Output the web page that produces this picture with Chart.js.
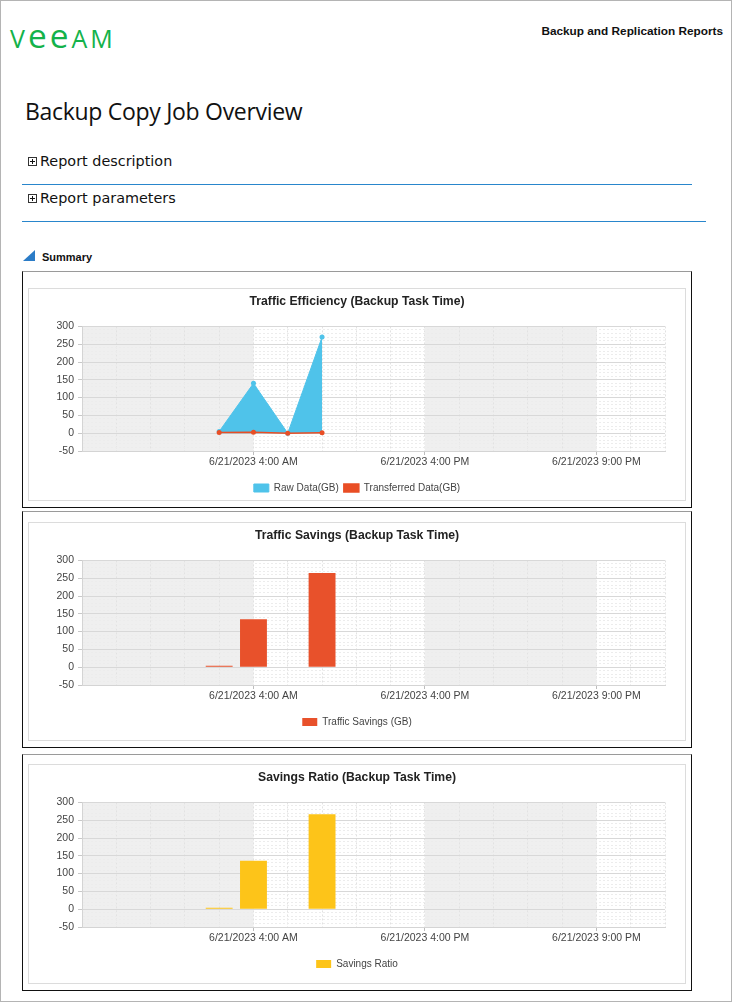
<!DOCTYPE html>
<html>
<head>
<meta charset="utf-8">
<title>Backup Copy Job Overview</title>
<script src="https://cdn.jsdelivr.net/npm/chart.js@4.4.1/dist/chart.umd.min.js"></script>
<style>
    body { margin: 0; background: #fff; font-family: "Liberation Sans", Arial, sans-serif; color: #111; }
    .abs { position: absolute; white-space: nowrap; }
    #bingkai { left: 0; top: 0; width: 732px; height: 1002px; box-sizing: border-box; border: 1px solid #b4b4b4; }
    #logo { left: 10px; top: 23px; font-family: "Open Sans", sans-serif; font-size: 25px; line-height: 25px; color: #13b24a; letter-spacing: 3px; }
    #logo .e { font-size: 33.4px; }
    #kanan { right: 9px; top: 24.5px; font-size: 11.8px; line-height: 12px; font-weight: bold; }
    #judul { left: 25px; top: 100px; font-family: "Open Sans", sans-serif; font-size: 23px; line-height: 23px; letter-spacing: -0.3px; }
    .sub { left: 40px; font-family: "DejaVu Sans", sans-serif; font-size: 14.4px; line-height: 15px; }
    .plus { left: 28px; width: 9px; height: 9px; box-sizing: border-box; border: 1px solid #333; }
    .plus::before { content: ''; position: absolute; left: 1px; top: 3px; width: 5px; height: 1px; background: #111; }
    .plus::after { content: ''; position: absolute; left: 3px; top: 1px; width: 1px; height: 5px; background: #111; }
    .garis { left: 22px; height: 1px; background: #2986cc; }
    #segitiga { left: 23px; top: 250px; width: 0; height: 0; border-bottom: 11px solid #2b7cc7; border-left: 12px solid transparent; }
    #ringkasan { left: 42px; top: 252px; font-size: 11px; line-height: 11px; font-weight: bold; }
    .kotak { left: 22px; width: 670px; height: 237px; box-sizing: border-box; border: 1px solid #111; border-top-color: #9a9a9a; }
    .dalam { left: 28px; width: 658px; box-sizing: border-box; border: 1px solid #dcdcdc; }
    .dalam canvas { display: block; }
</style>
</head>
<body>
<div class="abs" id="bingkai"></div>
<div class="abs" id="logo">V<span class="e">ee</span>AM</div>
<div class="abs" id="kanan">Backup and Replication Reports</div>
<div class="abs" id="judul">Backup Copy Job Overview</div>

<div class="abs plus" style="top:157px"></div>
<div class="abs sub" style="top:153.5px">Report description</div>
<div class="abs garis" style="top:184px; width:670px"></div>
<div class="abs plus" style="top:194px"></div>
<div class="abs sub" style="top:190.5px">Report parameters</div>
<div class="abs garis" style="top:221px; width:684px"></div>

<div class="abs" id="segitiga"></div>
<div class="abs" id="ringkasan">Summary</div>

<div class="abs kotak" style="top:271px"></div>
<div class="abs dalam" style="top:288px; height:213px"><canvas id="grafikEfisiensi" width="656" height="211"></canvas></div>
<div class="abs kotak" style="top:511px"></div>
<div class="abs dalam" style="top:522px; height:219px"><canvas id="grafikHemat" width="656" height="217"></canvas></div>
<div class="abs kotak" style="top:754px"></div>
<div class="abs dalam" style="top:764px; height:220px"><canvas id="grafikRasio" width="656" height="218"></canvas></div>

<script>
// Posisi sampel pada sumbu waktu (satu unit = satu slot grid).
const taskSlots = [4, 5, 6, 7];
const rawData = [5, 140, 0, 270];
const transferredData = [2, 3, 0, 1];
const trafficSavings = [4, 135, 0, 265];
const savingsRatio = [4, 136, 0, 267];

// Label sumbu waktu dan rentang sumbu.
const tickSlots = [5, 10, 15];
const tickLabels = ['6/21/2023 4:00 AM', '6/21/2023 4:00 PM', '6/21/2023 9:00 PM'];
const slotRange = [0, 17];
const valueRange = [-50, 300];

const toPoints = (values) => taskSlots.map((x, i) => ({ x: x, y: values[i] }));

Chart.defaults.font.family = '"Liberation Sans", Arial, sans-serif';
Chart.defaults.color = '#444';

// Pita abu-abu berselang di antara label waktu.
const pitaWaktu = {
    id: 'pitaWaktu',
    beforeDraw(chart) {
        const { ctx, chartArea: a, scales: { x } } = chart;
        const batas = [slotRange[0], ...tickSlots, slotRange[1]];
        ctx.save();
        ctx.fillStyle = '#efefef';
        for (let i = 0; i < batas.length - 1; i += 2) {
            const x0 = x.getPixelForValue(batas[i]);
            const x1 = x.getPixelForValue(batas[i + 1]);
            ctx.fillRect(x0, a.top, x1 - x0, a.bottom - a.top);
        }
        ctx.restore();
    }
};

function opsiSkala() {
    return {
        x: {
            type: 'linear', min: slotRange[0], max: slotRange[1], offset: false,
            afterFit: (s) => { s.height = 27; },
            ticks: {
                stepSize: 1, autoSkip: false, maxRotation: 0, minRotation: 0, padding: 1,
                font: { size: 10.5 }, color: '#444',
                callback: (v) => { const i = tickSlots.indexOf(v); return i >= 0 ? tickLabels[i] : ''; }
            },
            grid: {
                offset: false, color: '#e2e2e2', tickLength: 4,
                tickColor: (c) => (c.tick && tickSlots.includes(c.tick.value)) ? '#bdbdbd' : 'rgba(0,0,0,0)'
            },
            border: { color: '#d4d4d4', dash: (c) => c.tick ? [2, 2] : [] }
        },
        y: {
            min: valueRange[0], max: valueRange[1],
            afterFit: (s) => { s.width = 53; },
            ticks: {
                stepSize: 10, autoSkip: false, padding: 4, font: { size: 10.5 }, color: '#444',
                callback: (v) => v % 50 === 0 ? v : ''
            },
            grid: {
                tickLength: 4,
                color: (c) => c.tick.value % 50 === 0 ? '#d8d8d8' : '#ececec',
                tickColor: (c) => c.tick.value % 50 === 0 ? '#c8c8c8' : 'rgba(0,0,0,0)'
            },
            border: { color: '#d4d4d4', dash: (c) => (c.tick && c.tick.value % 50 !== 0) ? [2, 2] : [] }
        },
        // Sumbu kanan kosong hanya untuk memberi jarak kanan.
        y2: {
            position: 'right', min: 0, max: 1,
            afterFit: (s) => { s.width = 20; },
            grid: { display: false, drawTicks: false },
            ticks: { display: false },
            border: { display: false }
        }
    };
}

function buatGrafik(id, tipe, judul, datasets) {
    const canvas = document.getElementById(id);
    return new Chart(canvas.getContext('2d'), {
        type: tipe,
        data: { datasets: datasets },
        options: {
            responsive: false,
            animation: false,
            events: [],
            layout: { padding: { top: 0, left: 0, right: 0, bottom: canvas.height - 214 } },
            scales: opsiSkala(),
            plugins: {
                title: {
                    display: true, text: judul, color: '#222',
                    font: { size: 12.2, weight: 'bold', lineHeight: 1.1 },
                    padding: { top: 6, bottom: 18 }
                },
                legend: {
                    position: 'bottom',
                    labels: {
                        boxWidth: 15, boxHeight: 8, padding: 5, color: '#444', font: { size: 10 },
                        sort: (a, b) => a.datasetIndex - b.datasetIndex
                    }
                },
                tooltip: { enabled: false }
            }
        },
        plugins: [pitaWaktu]
    });
}

document.addEventListener('DOMContentLoaded', () => {
    buatGrafik('grafikEfisiensi', 'line', 'Traffic Efficiency (Backup Task Time)', [
        { label: 'Raw Data(GB)', data: toPoints(rawData), order: 1, fill: 'origin', tension: 0,
          borderColor: '#4fc3ea', backgroundColor: '#4fc3ea', borderWidth: 1,
          pointRadius: 2.5, pointBackgroundColor: '#4fc3ea', pointBorderWidth: 0 },
        { label: 'Transferred Data(GB)', data: toPoints(transferredData), order: 0, fill: false, tension: 0,
          borderColor: '#e94e25', backgroundColor: '#e94e25', borderWidth: 1.5,
          pointRadius: 2.5, pointBackgroundColor: '#e94e25', pointBorderWidth: 0 }
    ]);
    buatGrafik('grafikHemat', 'bar', 'Traffic Savings (Backup Task Time)', [
        { label: 'Traffic Savings (GB)', data: toPoints(trafficSavings), backgroundColor: '#e8512b',
          borderWidth: 0, barPercentage: 0.98, categoryPercentage: 0.8 }
    ]);
    buatGrafik('grafikRasio', 'bar', 'Savings Ratio (Backup Task Time)', [
        { label: 'Savings Ratio', data: toPoints(savingsRatio), backgroundColor: '#fdc419',
          borderWidth: 0, barPercentage: 0.98, categoryPercentage: 0.8 }
    ]);
});
</script>
</body>
</html>
